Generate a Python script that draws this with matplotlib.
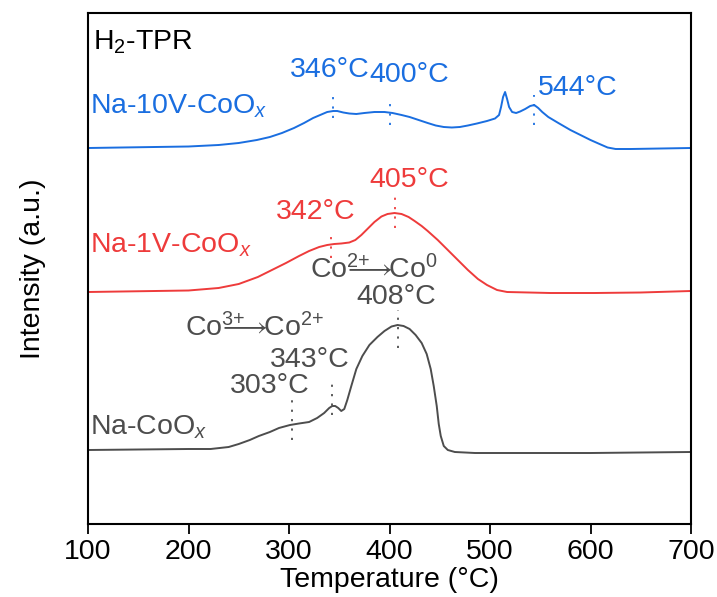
import numpy as np
import matplotlib.pyplot as plt

plt.rcParams['font.family'] = ['Liberation Sans', 'DejaVu Sans']
plt.rcParams['mathtext.fontset'] = 'custom'
plt.rcParams['mathtext.rm'] = 'Liberation Sans'
plt.rcParams['mathtext.it'] = 'Liberation Sans:italic'

# H2-TPR profiles (temperature in degC, intensity in a.u. incl. stacking offset)
t_co = [100, 200, 222, 240, 250, 261, 270, 281, 290, 301, 310, 320, 328, 335, 340, 343,
        346, 349, 352, 355, 358, 362, 367, 373, 380, 388, 395, 402, 408, 414, 420, 426,
        432, 437, 441, 444, 447, 449, 451, 454, 458, 465, 485, 600, 700]
i_co = [74, 75, 75, 77, 80, 84, 88, 92, 96, 99, 100.5, 102, 106, 111, 116, 118,
        118, 116, 113, 115, 124, 138, 155, 168, 179, 187, 193, 197.5, 199, 198, 195, 189,
        181, 170, 155, 138, 118, 100, 88, 78, 74, 72, 71, 71, 72]

t_1v = [100, 200, 230, 250, 269, 283, 297, 310, 320, 330, 338, 345, 352, 360, 366, 372,
        378, 385, 392, 398, 405, 412, 419, 425, 432, 438, 448, 458, 468, 478, 488, 497,
        507, 517, 560, 604, 650, 700]
i_1v = [232, 233.5, 236, 240, 247, 254, 261, 268, 273, 277, 279, 280, 280.5, 281.5, 284, 289,
        295, 302, 307.5, 310, 311, 310, 307, 303, 298, 293, 284, 274, 264, 254, 245, 239,
        234, 232, 231, 231, 231.5, 233]

t_10v = [100, 200, 230, 250, 268, 281, 293, 305, 315, 324, 331, 338, 344, 348, 354, 360,
         367, 375, 385, 395, 403, 412, 420, 429, 438, 446, 454, 462, 470, 478, 487, 497,
         505, 509, 511, 513, 515, 517, 519, 522, 526, 530, 535, 540, 544, 548, 552, 558,
         568, 580, 590, 600, 609, 617, 625, 640, 700]
i_10v = [376, 377.5, 379, 381, 384, 387, 391, 396, 401, 406, 409, 412, 413, 413, 411.5, 410.5,
         410, 411, 412, 412, 411, 409, 407, 404, 401, 398.5, 397, 396.5, 397, 398.5, 400.5, 403,
         405.5, 409, 417, 427, 432, 425, 417, 412, 411, 412.5, 415, 418, 419, 416, 412, 407,
         401, 394, 389, 384, 380, 376.5, 375, 375, 376]

c_co = '#4d4d4d'
c_1v = '#ee3b3b'
c_10v = '#1a6ee0'

fs = 20.5
fig = plt.figure(figsize=(7.17, 5.97), dpi=100)
ax = fig.add_axes([88/717, 73/597, 603/717, 511/597])

ax.plot(t_co, i_co, color=c_co, lw=1.4)
ax.plot(t_1v, i_1v, color=c_1v, lw=1.4)
ax.plot(t_10v, i_10v, color=c_10v, lw=1.4)

ax.set_xlim(100, 700)
ax.set_ylim(0, 511)
ax.set_yticks([])
ax.set_xticks(np.arange(100, 701, 100))
ax.tick_params(axis='x', direction='out', length=7, width=1.3, labelsize=fs, pad=4)
for s in ax.spines.values():
    s.set_linewidth(1.5)
ax.set_xlabel('Temperature (°C)', fontsize=fs, labelpad=1)
ax.set_ylabel('Intensity (a.u.)', fontsize=fs, labelpad=30)

dots = dict(ls=(0, (1.2, 4)), lw=1.3)

# peak markers: (temperature, y bottom, y top, colour)
marks = [(344, 406, 429, c_10v), (400, 399, 426, c_10v), (544, 399, 429, c_10v),
         (405, 296, 329, c_1v), (342, 266, 292, c_1v),
         (408, 176, 214, c_co), (343, 109, 146, c_co), (303, 84, 124, c_co)]
for t, y0, y1, c in marks:
    ax.plot([t, t], [y0, y1], color=c, **dots)

# temperature labels
ax.text(341, 454, '346°C', color=c_10v, fontsize=fs, ha='center', va='center')
ax.text(420, 449, '400°C', color=c_10v, fontsize=fs, ha='center', va='center')
ax.text(587, 436, '544°C', color=c_10v, fontsize=fs, ha='center', va='center')
ax.text(420, 344, '405°C', color=c_1v, fontsize=fs, ha='center', va='center')
ax.text(327, 312, '342°C', color=c_1v, fontsize=fs, ha='center', va='center')
ax.text(407, 227, '408°C', color=c_co, fontsize=fs, ha='center', va='center')
ax.text(321, 164, '343°C', color=c_co, fontsize=fs, ha='center', va='center')
ax.text(281, 138, '303°C', color=c_co, fontsize=fs, ha='center', va='center')

# reduction steps
arrow = r'\!\!\!\!\!\!\!\longrightarrow\!\!'
ax.text(385, 254, 'Co$^{2{+}}' + arrow + '$Co$^{0}$', color=c_co, fontsize=fs,
        ha='center', va='center')
ax.text(266, 196, 'Co$^{3{+}}' + arrow + '$Co$^{2{+}}$', color=c_co, fontsize=fs,
        ha='center', va='center')

# sample labels
ax.text(102, 418, 'Na-10V-CoO$_{x}$', color=c_10v, fontsize=fs, ha='left', va='center')
ax.text(102, 279, 'Na-1V-CoO$_{x}$', color=c_1v, fontsize=fs, ha='left', va='center')
ax.text(102, 97, 'Na-CoO$_{x}$', color=c_co, fontsize=fs, ha='left', va='center')

ax.text(105, 482, 'H$_{2}$-TPR', color='black', fontsize=fs, ha='left', va='center')

fig.savefig('out.png', dpi=100)
